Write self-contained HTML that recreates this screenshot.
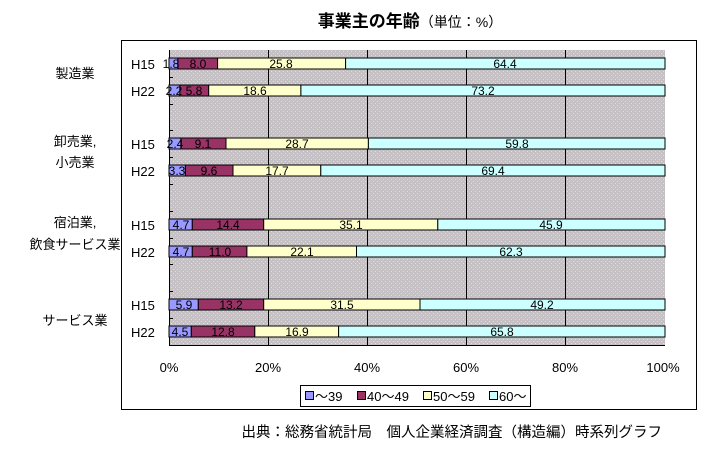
<!DOCTYPE html>
<html><head><meta charset="utf-8"><style>
html,body{margin:0;padding:0;background:#fff;}
svg{display:block;font-family:"Liberation Sans","Noto Sans CJK JP",sans-serif;}
</style></head><body>
<svg width="723" height="458" viewBox="0 0 723 458" xmlns="http://www.w3.org/2000/svg">
<defs>
<pattern id="bg" width="4" height="4" patternUnits="userSpaceOnUse"><rect width="4" height="4" fill="#c4c0c4"/><rect x="1" y="1" width="1" height="1" fill="#e0e0e0"/><rect x="3" y="3" width="1" height="1" fill="#e0e0e0"/></pattern>
</defs>
<text x="410" y="27" text-anchor="middle" font-size="17" font-weight="bold">事業主の年齢<tspan font-size="14" font-weight="normal">（単位：%）</tspan></text>
<rect x="121.5" y="40.5" width="575" height="369" fill="#fff" stroke="#000"/>
<rect x="169" y="50" width="496" height="295" fill="url(#bg)"/>
<g stroke="#000" stroke-width="1">
<line x1="268.5" y1="50" x2="268.5" y2="345"/><line x1="367.5" y1="50" x2="367.5" y2="345"/><line x1="466.5" y1="50" x2="466.5" y2="345"/><line x1="565.5" y1="50" x2="565.5" y2="345"/>
<line x1="169.5" y1="50" x2="169.5" y2="345"/><line x1="169" y1="345.5" x2="665" y2="345.5"/>
<line x1="169" y1="77.5" x2="173" y2="77.5"/><line x1="169" y1="104.5" x2="173" y2="104.5"/><line x1="169" y1="130.5" x2="173" y2="130.5"/><line x1="169" y1="157.5" x2="173" y2="157.5"/><line x1="169" y1="184.5" x2="173" y2="184.5"/><line x1="169" y1="211.5" x2="173" y2="211.5"/><line x1="169" y1="238.5" x2="173" y2="238.5"/><line x1="169" y1="264.5" x2="173" y2="264.5"/><line x1="169" y1="291.5" x2="173" y2="291.5"/><line x1="169" y1="318.5" x2="173" y2="318.5"/>
</g>
<g stroke="#000" stroke-width="1">
<rect x="169" y="58" width="8.9" height="11" fill="#9999ff"/><rect x="177.9" y="58" width="39.7" height="11" fill="#993366"/><rect x="217.6" y="58" width="128" height="11" fill="#ffffcc"/><rect x="345.6" y="58" width="319.4" height="11" fill="#ccffff"/>
<rect x="169" y="85" width="10.9" height="11" fill="#9999ff"/><rect x="179.9" y="85" width="28.8" height="11" fill="#993366"/><rect x="208.7" y="85" width="92.2" height="11" fill="#ffffcc"/><rect x="300.9" y="85" width="364.1" height="11" fill="#ccffff"/>
<rect x="169" y="138" width="11.9" height="11" fill="#9999ff"/><rect x="180.9" y="138" width="45.1" height="11" fill="#993366"/><rect x="226" y="138" width="142.4" height="11" fill="#ffffcc"/><rect x="368.4" y="138" width="296.6" height="11" fill="#ccffff"/>
<rect x="169" y="165" width="16.4" height="11" fill="#9999ff"/><rect x="185.4" y="165" width="47.6" height="11" fill="#993366"/><rect x="233" y="165" width="87.8" height="11" fill="#ffffcc"/><rect x="320.8" y="165" width="344.2" height="11" fill="#ccffff"/>
<rect x="169" y="219" width="23.3" height="11" fill="#9999ff"/><rect x="192.3" y="219" width="71.4" height="11" fill="#993366"/><rect x="263.7" y="219" width="174.1" height="11" fill="#ffffcc"/><rect x="437.8" y="219" width="227.2" height="11" fill="#ccffff"/>
<rect x="169" y="246" width="23.3" height="11" fill="#9999ff"/><rect x="192.3" y="246" width="54.6" height="11" fill="#993366"/><rect x="246.9" y="246" width="109.6" height="11" fill="#ffffcc"/><rect x="356.5" y="246" width="308.5" height="11" fill="#ccffff"/>
<rect x="169" y="299" width="29.3" height="11" fill="#9999ff"/><rect x="198.3" y="299" width="65.4" height="11" fill="#993366"/><rect x="263.7" y="299" width="156.3" height="11" fill="#ffffcc"/><rect x="420" y="299" width="245" height="11" fill="#ccffff"/>
<rect x="169" y="326" width="22.3" height="11" fill="#9999ff"/><rect x="191.3" y="326" width="63.5" height="11" fill="#993366"/><rect x="254.8" y="326" width="83.8" height="11" fill="#ffffcc"/><rect x="338.6" y="326" width="326.4" height="11" fill="#ccffff"/>
</g>
<g font-size="12" text-anchor="middle" fill="#000">
<text x="171" y="68">1.8</text><text x="198" y="68">8.0</text><text x="281" y="68">25.8</text><text x="505" y="68">64.4</text>
<text x="174" y="95">2.2</text><text x="194" y="95">5.8</text><text x="255" y="95">18.6</text><text x="483" y="95">73.2</text>
<text x="175" y="148">2.4</text><text x="203" y="148">9.1</text><text x="297" y="148">28.7</text><text x="517" y="148">59.8</text>
<text x="177" y="175">3.3</text><text x="209" y="175">9.6</text><text x="277" y="175">17.7</text><text x="493" y="175">69.4</text>
<text x="181" y="229">4.7</text><text x="228" y="229">14.4</text><text x="351" y="229">35.1</text><text x="551" y="229">45.9</text>
<text x="181" y="256">4.7</text><text x="220" y="256">11.0</text><text x="302" y="256">22.1</text><text x="511" y="256">62.3</text>
<text x="184" y="309">5.9</text><text x="231" y="309">13.2</text><text x="342" y="309">31.5</text><text x="542" y="309">49.2</text>
<text x="180" y="336">4.5</text><text x="223" y="336">12.8</text><text x="297" y="336">16.9</text><text x="502" y="336">65.8</text>
</g>
<g font-size="13" fill="#000">
<text x="131" y="69">H15</text><text x="131" y="96">H22</text><text x="131" y="149">H15</text><text x="131" y="176">H22</text>
<text x="131" y="230">H15</text><text x="131" y="257">H22</text><text x="131" y="310">H15</text><text x="131" y="337">H22</text>
</g>
<g font-size="13" text-anchor="middle" fill="#000">
<text x="75" y="78">製造業</text>
<text x="75" y="146">卸売業,</text><text x="75" y="167">小売業</text>
<text x="75" y="227">宿泊業,</text><text x="75" y="249">飲食サービス業</text>
<text x="75" y="325">サービス業</text>
<text x="169" y="372">0%</text><text x="268" y="372">20%</text><text x="367" y="372">40%</text><text x="466" y="372">60%</text><text x="565" y="372">80%</text><text x="663" y="372">100%</text>
</g>
<rect x="300.5" y="385.5" width="230" height="21" fill="#fff" stroke="#000"/>
<g stroke="#000">
<rect x="305.5" y="391.5" width="8" height="8" fill="#9999ff"/><rect x="357.5" y="391.5" width="8" height="8" fill="#993366"/><rect x="423.5" y="391.5" width="8" height="8" fill="#ffffcc"/><rect x="489.5" y="391.5" width="8" height="8" fill="#ccffff"/>
</g>
<g font-size="13" fill="#000"><text x="315" y="401">～39</text><text x="367" y="401">40～49</text><text x="433" y="401">50～59</text><text x="499" y="401">60～</text></g>
<text x="662" y="437" text-anchor="end" font-size="14.5">出典：総務省統計局　個人企業経済調査（構造編）時系列グラフ</text>
</svg>
</body></html>
